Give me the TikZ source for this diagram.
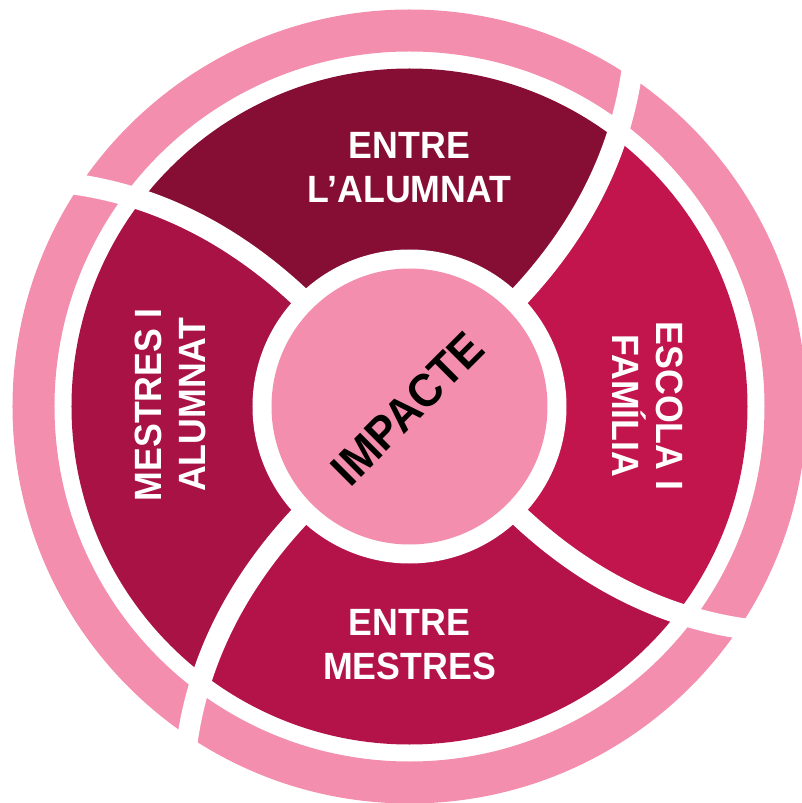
\documentclass[tikz,border=0pt]{standalone}
\usepackage{fontspec}
\setmainfont{Liberation Sans}[FakeStretch=0.94]
\definecolor{cpink}{RGB}{243,142,174}
\definecolor{ctop}{RGB}{134,14,53}
\definecolor{cright}{RGB}{194,21,78}
\definecolor{cbottom}{RGB}{180,19,73}
\definecolor{cleft}{RGB}{168,18,68}
\pgfmathdeclarefunction{gapang}{2}{\pgfmathparse{#1+9.7*((#2-150)/226)*sqrt((#2-150)/226)}}
\tikzset{
  seclabel/.style={text=white, font=\bfseries\fontsize{38}{44}\selectfont, align=center, inner sep=0pt},
  centerlabel/.style={text=black, font=\bfseries\fontsize{46.5}{52}\selectfont, inner sep=0pt},
  gapline/.style={draw=white, line width=21pt}
}
\begin{document}
\begin{tikzpicture}[x=1pt,y=1pt]
\useasboundingbox (-409.5,-396.5) rectangle (392.5,406.5);
% outer ring
\fill[cpink, even odd rule] (0,0) circle (397) (0,0) circle (355);
% sectors
\begin{scope}
  \clip (0,0) circle (338);
  \foreach \a/\b/\c in {45/135/ctop, 135/225/cleft, 225/315/cbottom, -45/45/cright} {
    \fill[\c] (0,0)
      -- plot[domain=150:420,samples=50,variable=\r] ({gapang(\a,\r)}:\r)
      -- ({\a+12.7}:700) -- ({(\a+\b)/2+12.7}:700) -- ({\b+12.7}:700)
      -- plot[domain=420:150,samples=50,variable=\r] ({gapang(\b,\r)}:\r)
      -- cycle;
  }
\end{scope}
% gaps
\foreach \a in {45,135,225,315} {
  \draw[gapline] plot[domain=150:420,samples=60,variable=\r] ({gapang(\a,\r)}:\r);
}
% centre
\fill[white] (0,0) circle (157);
\fill[cpink] (0,0) circle (138);
% labels
\node[seclabel] (top) at (0,238.5) {ENTRE\\L’ALUMNAT};
\node[seclabel] (bottom) at (0,-238) {ENTRE\\MESTRES};
\node[seclabel, rotate=90] (left) at (-239,1.5) {MESTRES I\\ALUMNAT};
\node[seclabel, rotate=-90] (right) at (238.5,0.5) {ESCOLA I\\FAMÍLIA};
\node[centerlabel, rotate=45] (impact) at (-2,-2) {IMPACTE};
\end{tikzpicture}
\end{document}
